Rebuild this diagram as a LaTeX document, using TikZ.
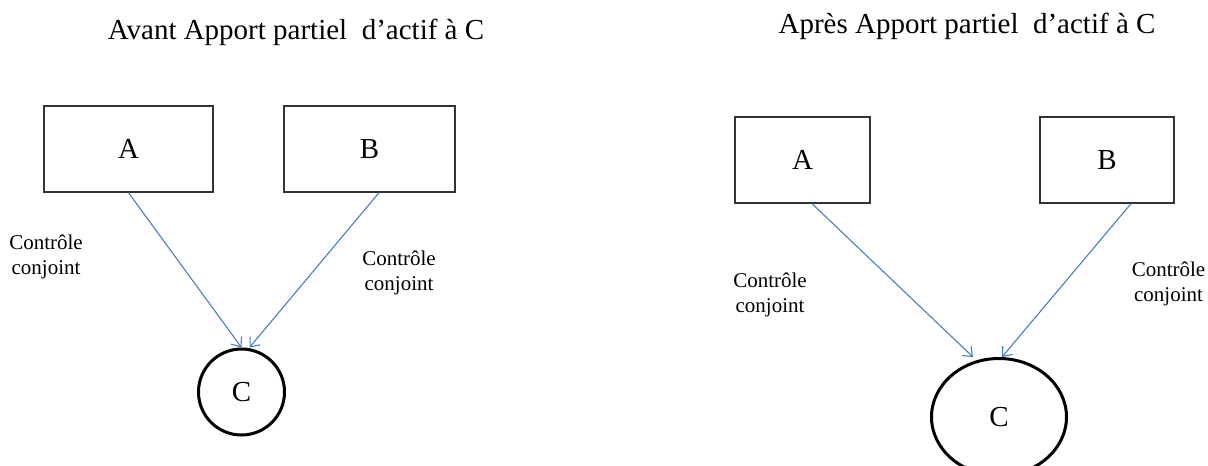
\documentclass[tikz,border=0pt]{standalone}
\usepackage{fontspec}
\setmainfont{Liberation Serif}
\usetikzlibrary{arrows.meta,shapes.geometric}
\definecolor{arrowblue}{HTML}{4A7EBB}
\tikzset{
  box/.style={draw=black!80,line width=1.3pt,inner sep=0pt,font=\fontsize{29}{34}\selectfont},
  ring/.style={draw=black,line width=3pt,circle,inner sep=0pt,minimum size=86pt,font=\fontsize{29}{34}\selectfont},
  oval/.style={draw=black,line width=3pt,ellipse,inner sep=0pt,minimum width=135pt,minimum height=117pt,font=\fontsize{29}{34}\selectfont},
  link/.style={draw=arrowblue,line width=1.1pt,-{Straight Barb[length=8pt,width=13pt,line width=1.1pt]}},
  lbl/.style={align=center,inner sep=0pt,font=\fontsize{21}{24.5}\selectfont},
  ttl/.style={anchor=base,inner sep=0pt,font=\fontsize{29}{34}\selectfont}
}
\begin{document}
\begin{tikzpicture}[x=1pt,y=-1pt]
\useasboundingbox (0,0) rectangle (1208,466);
\clip (0,0) rectangle (1208,466);
% titles
\node[ttl] (t1) at (296,39) {Avant Apport partiel\ \ d’actif à C};
\node[ttl] (t2) at (967,33) {Après Apport partiel\ \ d’actif à C};
% left diagram
\node[box,minimum width=169pt,minimum height=86pt] (A1) at (128.5,149) {A};
\node[box,minimum width=171pt,minimum height=86pt] (B1) at (369.5,149) {B};
\node[ring] (C1) at (241.5,392) {C};
\draw[link] (A1.south) -- (C1.north);
\draw[link] ([xshift=9.5pt]B1.south) -- ([xshift=8pt]C1.north);
\node[lbl] (l1) at (46,257) {Contrôle\\conjoint};
\node[lbl] (l2) at (399,273) {Contrôle\\conjoint};
% right diagram
\node[box,minimum width=135pt,minimum height=86pt] (A2) at (802.5,160) {A};
\node[box,minimum width=134pt,minimum height=86pt] (B2) at (1107,160) {B};
\node[oval] (C2) at (999,417) {C};
\draw[link] ([xshift=9.5pt]A2.south) -- ([xshift=-26pt]C2.north);
\draw[link] ([xshift=24pt]B2.south) -- ([xshift=3pt]C2.north);
\node[lbl] (l3) at (770,295) {Contrôle\\conjoint};
\node[lbl] (l4) at (1168.5,284) {Contrôle\\conjoint};
\end{tikzpicture}
\end{document}
